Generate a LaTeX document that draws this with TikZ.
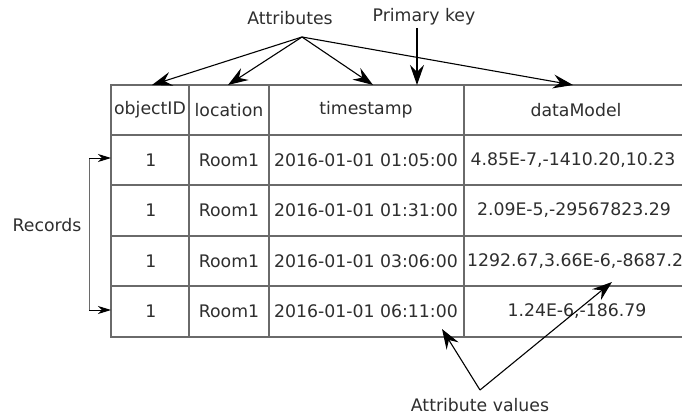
\documentclass[tikz,border=0pt]{standalone}
\usepackage{fontspec}
\setmainfont{DejaVu Sans}
\usetikzlibrary{arrows.meta}
\definecolor{txtgray}{HTML}{2E2E2E}
\definecolor{linegray}{HTML}{6A6A6A}
\begin{document}
\begin{tikzpicture}[x=1pt,y=-1pt,
		lbl/.style={text=txtgray,font=\fontsize{17.3}{20}\selectfont,inner sep=0pt},
		ptr/.style={-{Stealth[length=20pt,width=14pt,inset=7pt]},line width=1.1pt},
		recptr/.style={-{Stealth[length=13pt,width=8pt,inset=4pt]},line width=1pt}]
	\useasboundingbox (0,0) rectangle (682,417);
	\begin{scope}
		\clip (0,0) rectangle (682,417);
		\draw[linegray,line width=1.5pt] (111,85) rectangle (700,337);
		\foreach \y in {135,185,236,286} \draw[linegray,line width=1.1pt] (111,\y)--(700,\y);
		\foreach \x in {189,269,464} \draw[linegray,line width=1.1pt] (\x,85)--(\x,337);
	\end{scope}
	% header
	\node[lbl] (hId) at (150,110) {objectID};
	\node[lbl] (hLoc) at (229,110) {location};
	\node[lbl] (hTime) at (366,110) {timestamp};
	\node[lbl] (hData) at (576,110) {dataModel};
	% records
	\foreach \y/\t [count=\i] in {160/01:05:00,210.5/01:31:00,261/03:06:00,311.5/06:11:00} {
		\node[lbl] (id\i) at (151,\y) {1};
		\node[lbl] (loc\i) at (229,\y) {Room1};
		\node[lbl] (time\i) at (366,\y) {2016-01-01 \t};
	}
	\node[lbl] (data1) at (573,160) {4.85E-7,-1410.20,10.23};
	\node[lbl] (data2) at (574,210.5) {2.09E-5,-29567823.29};
	\node[lbl,anchor=west] (data3) at (467,261) {1292.67,3.66E-6,-8687.23};
	\node[lbl] (data4) at (577,311.5) {1.24E-6,-186.79};
	% labels
	\node[lbl] (attr) at (290,18) {Attributes};
	\node[lbl] (pkey) at (424,17) {Primary key};
	\node[lbl] (rec) at (47,225) {Records};
	\node[lbl] (aval) at (480,405) {Attribute values};
	\coordinate (attrO) at (302,37);
	\coordinate (valO) at (480,390);
	\coordinate (recT) at (89,158);
	\coordinate (recB) at (89,310);
	\draw[ptr] (attrO)--(152,85);
	\draw[ptr] (attrO)--(228,85);
	\draw[ptr] (attrO)--(373,85);
	\draw[ptr] (attrO)--(573,85);
	\draw[ptr] (417,28)--(417,85);
	\draw[ptr] (valO)--(442,329);
	\draw[ptr] (valO)--(612,282);
	\draw[linegray,line width=1pt] (recT)--(recB);
	\draw[recptr] (recT)--(111,158);
	\draw[recptr] (recB)--(111,310);
\end{tikzpicture}
\end{document}
